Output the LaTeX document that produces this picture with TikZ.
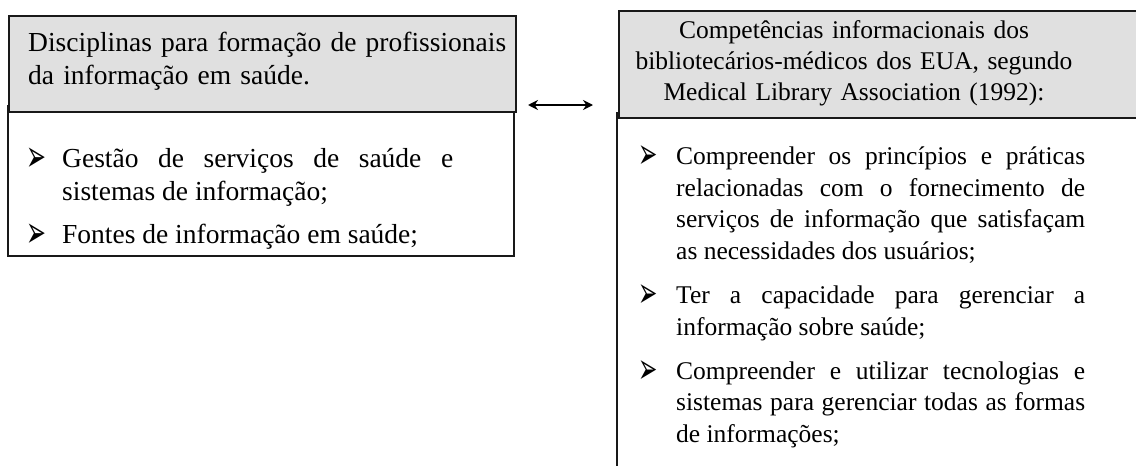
\documentclass[tikz,border=0pt]{standalone}
\usepackage{fontspec}
\setmainfont{Liberation Serif}
\newfontfamily\symfont{DejaVu Sans}
\usetikzlibrary{arrows.meta}
\definecolor{hdrgray}{RGB}{224,224,224}
\definecolor{edgec}{RGB}{25,25,25}
\newcommand{\nohy}{\hyphenpenalty=10000\exhyphenpenalty=10000\relax}
\newcommand{\bulL}{\makebox[34pt][l]{\hspace*{-2pt}\raisebox{-4pt}{\scalebox{0.7}[1.3]{\symfont\fontsize{34}{34}\selectfont ➢}}}}
\newcommand{\bulR}{\makebox[36pt][l]{\hspace*{-2pt}\raisebox{-4pt}{\scalebox{0.7}[1.3]{\symfont\fontsize{33}{33}\selectfont ➢}}}}
\newcommand{\itmL}[1]{\hangindent=34pt\hangafter=1\noindent\bulL\rule{0pt}{22pt}#1\par}
\newcommand{\itmR}[1]{\hangindent=36pt\hangafter=1\noindent\bulR\rule{0pt}{20.4pt}#1\par}
\tikzset{
  hdrbox/.style={draw=edgec, line width=2pt, fill=hdrgray, anchor=north west, inner sep=0pt},
  bodybox/.style={draw=edgec, line width=2pt, fill=white, anchor=north west, inner sep=0pt},
  ltxt/.style={inner sep=0pt, anchor=north west, font=\fontsize{27.5}{33}\selectfont\nohy},
  rtxt/.style={inner sep=0pt, font=\fontsize{25.5}{31.8}\selectfont\nohy},
  link/.style={line width=1.6pt, {Stealth[length=10pt,width=10pt]}-{Stealth[length=10pt,width=10pt]}}
}
\begin{document}
\begin{tikzpicture}[x=1pt,y=-1pt]
\useasboundingbox (0,0) rectangle (1136,466);
\begin{scope}
\clip (0,0) rectangle (1136,466);
% left column
\node[bodybox, minimum width=506pt, minimum height=150pt] (lbody) at (7,105) {};
\node[hdrbox, minimum width=507pt, minimum height=96pt] (lhead) at (8,15) {};
\node[ltxt, text width=480pt, align=left] (lheadtxt) at (28,29)
  {\rule{0pt}{22pt}Disciplinas para formação de profissionais\\da informação em saúde.};
\node[ltxt, text width=425pt, align=justify] (lbodytxt) at (28,145)
  {\itmL{Gestão de serviços de saúde e sistemas de informação;}\vspace{10pt}%
   \itmL{Fontes de informação em saúde;}};
% right column
\node[bodybox, minimum width=540pt, minimum height=370pt] (rbody) at (616,112) {};
\node[hdrbox, minimum width=540pt, minimum height=107pt] (rhead) at (618,10) {};
\node[rtxt, anchor=north, text width=460pt, align=center, font=\fontsize{25.5}{31}\selectfont\nohy] (rheadtxt) at (854,18)
  {\rule{0pt}{20.4pt}Competências informacionais dos\\bibliotecários-médicos dos EUA, segundo\\Medical Library Association (1992):};
\node[rtxt, anchor=north west, text width=445pt, align=justify] (rbodytxt) at (640,143.6)
  {\itmR{Compreender os princípios e práticas relacionadas com o fornecimento de serviços de informação que satisfaçam as necessidades dos usuários;}\vspace{12pt}%
   \itmR{Ter a capacidade para gerenciar a informação sobre saúde;}\vspace{12pt}%
   \itmR{Compreender e utilizar tecnologias e sistemas para gerenciar todas as formas de informações;}};
\end{scope}
% connector
\coordinate (al) at (528,105);
\coordinate (ar) at (593,105);
\draw[link] (al) -- (ar);
\end{tikzpicture}
\end{document}
